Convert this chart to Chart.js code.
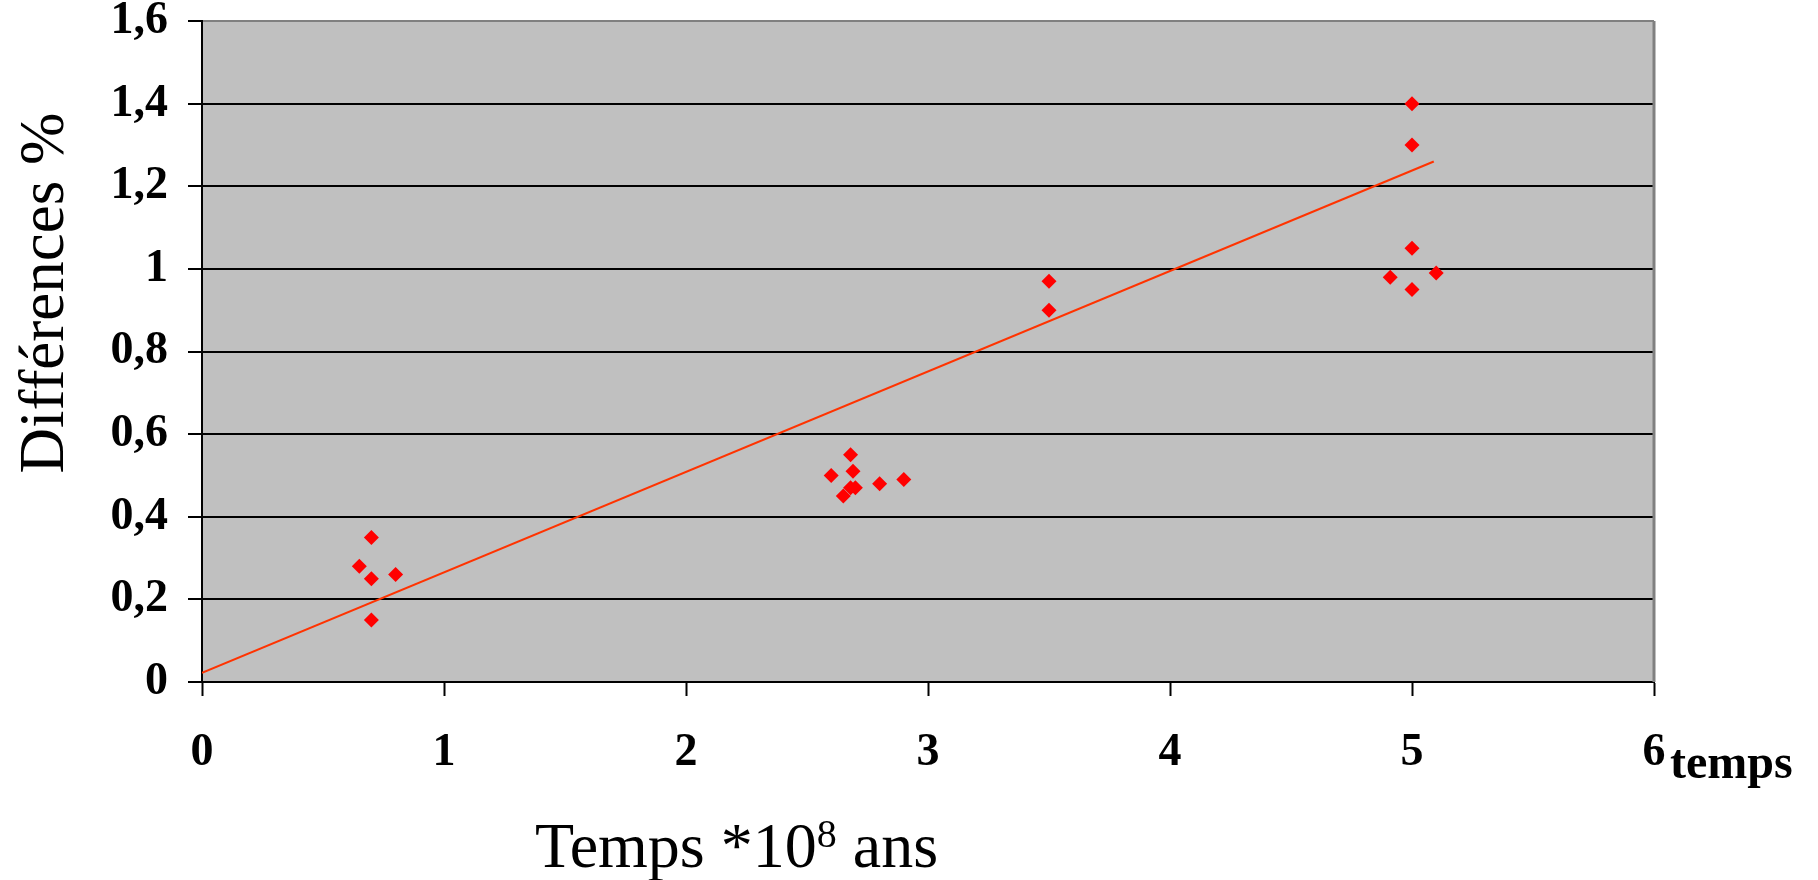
<!DOCTYPE html>
<html>
<head>
<meta charset="utf-8">
<script src="https://cdn.jsdelivr.net/npm/chart.js@4/dist/chart.umd.min.js"></script>
<style>
  html, body { margin: 0; padding: 0; background: #fff; }
  #wrap { width: 1818px; height: 880px; }
</style>
</head>
<body>
<div id="wrap"><canvas id="chart_diff" width="1818" height="880"></canvas></div>
<script>
// values
const timeValues = [0.70, 0.65, 0.70, 0.80, 0.70,
                    2.68, 2.69, 2.60, 2.68, 2.70, 2.65, 2.80, 2.90,
                    3.50, 3.50,
                    5.00, 5.00, 5.00, 4.91, 5.10, 5.00];
const diffValues = [0.35, 0.28, 0.25, 0.26, 0.15,
                    0.55, 0.51, 0.50, 0.47, 0.47, 0.45, 0.48, 0.49,
                    0.97, 0.90,
                    1.40, 1.30, 1.05, 0.98, 0.99, 0.95];

// trend line end points
const trendX = [0, 5.09];
const trendY = [0.022, 1.26];

const xTickLabels = ['0', '1', '2', '3', '4', '5', '6'];
const yTickLabels = ['0', '0,2', '0,4', '0,6', '0,8', '1', '1,2', '1,4', '1,6'];

const serif = '"Liberation Serif", "Times New Roman", serif';

const points = timeValues.map((t, i) => ({x: t, y: diffValues[i]}));
const trend = trendX.map((t, i) => ({x: t, y: trendY[i]}));

// gray plot background + gray right border
const plotFrame = {
    id: 'plotFrame',
    beforeDraw(chart) {
        const {ctx, chartArea: a} = chart;
        ctx.save();
        ctx.fillStyle = '#C0C0C0';
        ctx.fillRect(a.left, a.top, a.right - a.left, a.bottom - a.top);
        ctx.restore();
    },
    beforeDatasetsDraw(chart) {
        const {ctx, chartArea: a} = chart;
        ctx.save();
        ctx.strokeStyle = '#808080';
        ctx.lineWidth = 3;
        ctx.beginPath();
        ctx.moveTo(a.right, a.top);
        ctx.lineTo(a.right, a.bottom);
        ctx.stroke();
        ctx.restore();
    }
};

// axis titles placed like the original
const titles = {
    id: 'titles',
    afterDraw(chart) {
        const ctx = chart.ctx;
        ctx.save();
        ctx.fillStyle = '#000';

        // y title
        ctx.translate(63, 293);
        ctx.rotate(-Math.PI / 2);
        ctx.font = '63px ' + serif;
        ctx.textAlign = 'center';
        ctx.textBaseline = 'alphabetic';
        ctx.fillText('Différences %', 0, 0);
        ctx.setTransform(1, 0, 0, 1, 0, 0);

        // x title with superscript
        ctx.textAlign = 'left';
        let x = 535, base = 867;
        ctx.font = '64px ' + serif;
        ctx.fillText('Temps *10', x, base);
        x += ctx.measureText('Temps *10').width;
        ctx.font = '40px ' + serif;
        ctx.fillText('8', x, base - 20);
        x += ctx.measureText('8').width;
        ctx.font = '64px ' + serif;
        ctx.fillText(' ans', x, base);

        // small unit label next to the last tick
        ctx.font = 'bold 48px ' + serif;
        ctx.fillText('temps', 1670, 778);
        ctx.restore();
    }
};

new Chart(document.getElementById('chart_diff').getContext('2d'), {
    type: 'scatter',
    data: {
        datasets: [
            {
                label: 'Différences',
                data: points,
                pointStyle: 'rectRot',
                pointRadius: 7.5,
                pointHoverRadius: 7.5,
                backgroundColor: '#FF0000',
                borderColor: '#FF0000',
                borderWidth: 0,
                order: 1
            },
            {
                label: 'tendance',
                type: 'line',
                data: trend,
                showLine: true,
                pointRadius: 0,
                borderColor: '#FF3300',
                borderWidth: 2,
                fill: false,
                order: 0
            }
        ]
    },
    options: {
        responsive: false,
        animation: false,
        events: [],
        layout: { padding: { top: 21, right: 164, left: 0, bottom: 0 } },
        plugins: { legend: { display: false }, tooltip: { enabled: false } },
        scales: {
            x: {
                type: 'linear',
                min: 0, max: 6,
                afterFit(scale) {
                    scale.height = 198;
                    scale.paddingLeft = 0;
                    scale.paddingRight = 0;
                },
                grid: { drawOnChartArea: false, drawTicks: true, tickLength: 14, tickColor: '#000', tickWidth: 2 },
                border: { color: '#000', width: 2 },
                ticks: {
                    stepSize: 1,
                    padding: 39,
                    color: '#000',
                    font: { family: serif, size: 46, weight: 'bold', lineHeight: 0.8 },
                    callback: (v, i) => xTickLabels[i]
                }
            },
            y: {
                min: 0, max: 1.6,
                afterFit(scale) {
                    scale.width = 202;
                    scale.paddingTop = 0;
                    scale.paddingBottom = 0;
                },
                grid: {
                    color: (c) => c.index === yTickLabels.length - 1 ? '#808080' : '#000',
                    lineWidth: 2,
                    tickLength: 14,
                    tickColor: '#000',
                    tickWidth: 2
                },
                border: { color: '#000', width: 2 },
                ticks: {
                    stepSize: 0.2,
                    padding: 20,
                    color: '#000',
                    font: { family: serif, size: 46, weight: 'bold', lineHeight: 0.8 },
                    callback: (v, i) => yTickLabels[i]
                }
            }
        }
    },
    plugins: [plotFrame, titles]
});
</script>
</body>
</html>
